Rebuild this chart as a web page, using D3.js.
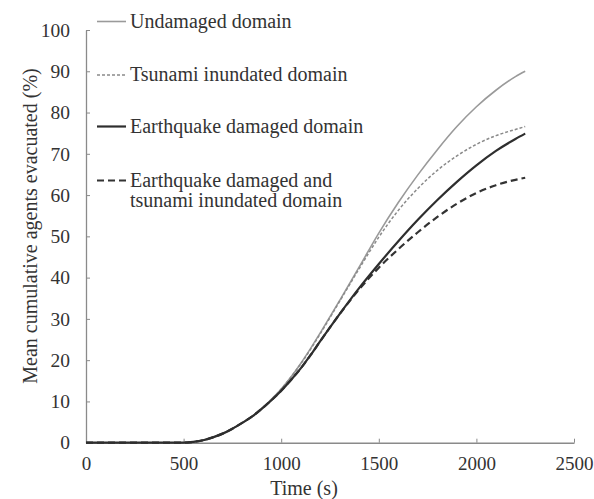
<!DOCTYPE html>
<html>
<head>
<meta charset="utf-8">
<script src="https://cdn.jsdelivr.net/npm/d3@7"></script>
<style>
  body { margin: 0; background: #fff; }
  text { font-family: "Liberation Serif", "Times New Roman", serif; fill: #333; }
</style>
</head>
<body>
<div id="chart"></div>
<script>
// time in seconds
const times = [0, 500, 550, 600, 650, 700, 750, 800, 850, 900, 950, 1000, 1050, 1100, 1150, 1200, 1300, 1400, 1500, 1600, 1700, 1800, 1900, 2000, 2100, 2200, 2250];

// mean cumulative agents evacuated (%)
const undamaged  = [0, 0, 0.2, 0.6, 1.3, 2.2, 3.4, 4.8, 6.4, 8.3, 10.5, 13.0, 15.9, 19.2, 22.8, 26.6, 34.5, 42.6, 50.8, 58.2, 64.9, 71.0, 76.6, 81.4, 85.4, 88.7, 90.0];
const tsunami    = [0, 0, 0.2, 0.6, 1.3, 2.2, 3.4, 4.8, 6.4, 8.3, 10.5, 13.0, 15.9, 19.1, 22.6, 26.4, 34.3, 42.2, 49.8, 56.3, 61.6, 66.0, 69.5, 72.3, 74.4, 75.9, 76.6];
const earthquake = [0, 0, 0.2, 0.6, 1.3, 2.2, 3.4, 4.8, 6.3, 8.2, 10.3, 12.6, 15.2, 18.0, 21.2, 24.6, 31.2, 37.5, 43.3, 48.8, 54.0, 58.8, 63.2, 67.2, 70.7, 73.6, 74.9];
const eqTsunami  = [0, 0, 0.2, 0.6, 1.3, 2.2, 3.4, 4.8, 6.3, 8.2, 10.3, 12.6, 15.2, 18.0, 21.2, 24.6, 31.2, 37.2, 42.4, 46.9, 51.0, 54.7, 57.9, 60.5, 62.4, 63.7, 64.2];

const xTicks = [0, 500, 1000, 1500, 2000, 2500];
const yTicks = [0, 10, 20, 30, 40, 50, 60, 70, 80, 90, 100];

const seriesNames = ["Undamaged domain", "Tsunami inundated domain", "Earthquake damaged domain", ["Earthquake damaged and", "tsunami inundated domain"]];

var width = 594, height = 499;
var margin = {top: 30, right: 20, bottom: 57, left: 86};

var svg = d3.select("#chart")
  .append("svg")
    .attr("width", width)
    .attr("height", height);

var x = d3.scaleLinear().domain([0, 2500]).range([margin.left, 574]);
var y = d3.scaleLinear().domain([0, 100]).range([height - margin.bottom + 0.7, margin.top]);

var axisColor = "#8a8a8a";

// X axis
var gx = svg.append("g")
  .attr("transform", "translate(0," + y(0) + ")")
  .call(d3.axisBottom(x).tickValues(xTicks).tickFormat(d3.format("d"))
    .tickSizeInner(-4).tickSizeOuter(0).tickPadding(14));
gx.select(".domain").attr("stroke", axisColor).attr("stroke-width", 1.6);
gx.selectAll(".tick line").attr("stroke", axisColor);
gx.selectAll(".tick text").attr("font-size", 19).attr("fill", "#333");

// Y axis
var gy = svg.append("g")
  .attr("transform", "translate(" + x(0) + ",0)")
  .call(d3.axisLeft(y).tickValues(yTicks).tickFormat(d3.format("d"))
    .tickSizeInner(-4).tickSizeOuter(0).tickPadding(16));
gy.select(".domain").attr("stroke", axisColor).attr("stroke-width", 1.3);
gy.selectAll(".tick line").attr("stroke", axisColor);
gy.selectAll(".tick text").attr("font-size", 19.5).attr("fill", "#333");

// axis titles
svg.append("text")
  .attr("x", 304)
  .attr("y", 495)
  .attr("text-anchor", "middle")
  .attr("font-size", 20)
  .text("Time (s)");

svg.append("text")
  .attr("transform", "translate(37,226) rotate(-90)")
  .attr("text-anchor", "middle")
  .attr("font-size", 20)
  .text("Mean cumulative agents evacuated (%)");

// lines
var styles = [
  {color: "#9a9a9a", width: 1.6, dash: null},
  {color: "#8a8a8a", width: 1.5, dash: "3,2"},
  {color: "#2e2e2e", width: 2.2, dash: null},
  {color: "#333", width: 2.2, dash: "7,4"}
];
var allSeries = [undamaged, tsunami, earthquake, eqTsunami];

var line = d3.line()
  .x(function(d) { return x(d[0]); })
  .y(function(d) { return y(d[1]); })
  .curve(d3.curveMonotoneX);

// draw the gray ones first, black on top
[0, 1, 3, 2].forEach(function(i) {
  var pts = times.map(function(t, k) { return [t, allSeries[i][k]]; });
  svg.append("path")
    .datum(pts)
    .attr("fill", "none")
    .attr("stroke", styles[i].color)
    .attr("stroke-width", styles[i].width)
    .attr("stroke-dasharray", styles[i].dash)
    .attr("d", line);
});

// legend
var legendRows = [21.5, 75, 126.5, 180.5];
legendRows.forEach(function(ly, i) {
  svg.append("line")
    .attr("x1", 97).attr("x2", 126)
    .attr("y1", ly).attr("y2", ly)
    .attr("stroke", styles[i].color)
    .attr("stroke-width", styles[i].width)
    .attr("stroke-dasharray", styles[i].dash);
  var label = seriesNames[i];
  var lines = Array.isArray(label) ? label : [label];
  lines.forEach(function(s, j) {
    svg.append("text")
      .attr("x", 130)
      .attr("y", ly + 6 + j * 20)
      .attr("font-size", 20)
      .text(s);
  });
});
</script>
</body>
</html>
